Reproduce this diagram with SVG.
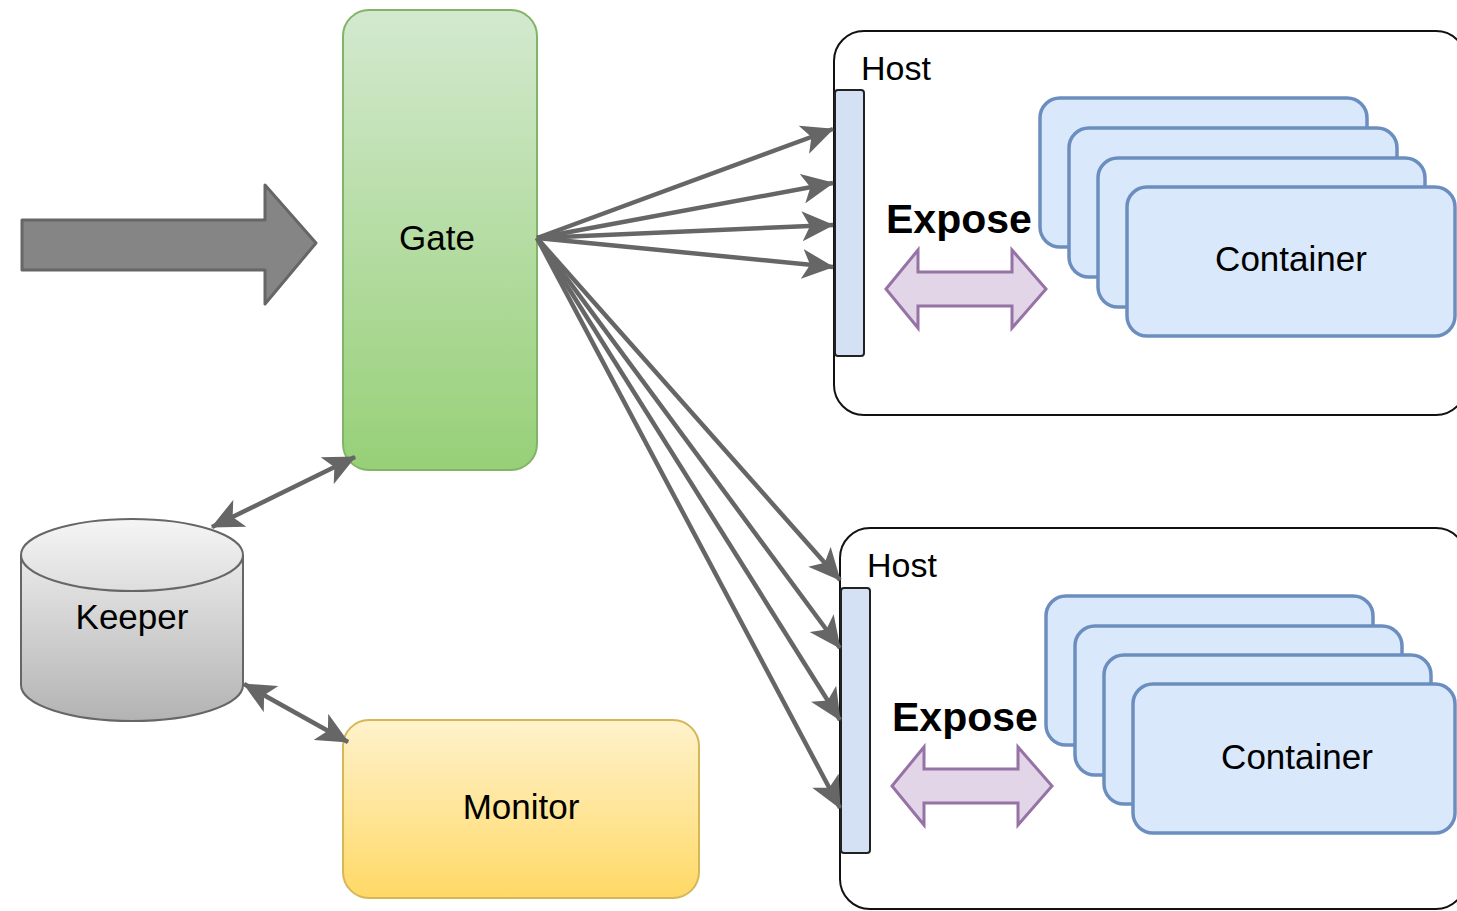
<svg xmlns="http://www.w3.org/2000/svg" width="1457" height="911" viewBox="0 0 1457 911">
<style>
  .lbl{font-family:"Liberation Sans",Arial,sans-serif;font-size:35px;fill:#000;text-anchor:middle}
  .host{font-family:"Liberation Sans",Arial,sans-serif;font-size:34px;fill:#000}
  .exp{font-family:"Liberation Sans",Arial,sans-serif;font-size:41px;font-weight:bold;fill:#000}
  .hostbox{fill:#fff;stroke:#111;stroke-width:2}
  .port{fill:#d4e1f5;stroke:#222;stroke-width:2}
  .cont{fill:#dae8fc;stroke:#6c8ebf;stroke-width:3.5}
  .xarrow{fill:#e1d5e7;stroke:#9673a6;stroke-width:3}
  .conn{stroke:#666;stroke-width:4.5;fill:none}
</style>
<defs>
  <linearGradient id="gGate" x1="0" y1="0" x2="0" y2="1">
    <stop offset="0" stop-color="#d3e9cf"/>
    <stop offset="1" stop-color="#97d077"/>
  </linearGradient>
  <linearGradient id="gMon" x1="0" y1="0" x2="0" y2="1">
    <stop offset="0" stop-color="#fff2cc"/>
    <stop offset="1" stop-color="#ffd966"/>
  </linearGradient>
  <linearGradient id="gKeep" x1="0" y1="0" x2="0" y2="1">
    <stop offset="0" stop-color="#f5f5f5"/>
    <stop offset="1" stop-color="#b3b3b3"/>
  </linearGradient>
  <marker id="ah" viewBox="0 0 32 30" refX="31" refY="15" markerWidth="32" markerHeight="30" markerUnits="userSpaceOnUse" orient="auto-start-reverse">
    <path d="M0,0 L32,15 L0,30 L8,15 Z" fill="#666"/>
  </marker>
</defs>

<g id="input-arrow">
  <polygon points="22,220 265,220 265,185 316,243 265,304 265,270 22,270" fill="#858585" stroke="#666" stroke-width="3" stroke-linejoin="round"/>
</g>

<g id="gate">
  <rect x="343" y="10" width="194" height="460" rx="26" fill="url(#gGate)" stroke="#82b366" stroke-width="2"/>
  <text class="lbl" x="437" y="250">Gate</text>
</g>

<g id="host1">
  <rect class="hostbox" x="834" y="31" width="632" height="384" rx="30"/>
  <text class="host" x="861" y="80">Host</text>
  <rect class="port" x="835" y="90" width="29" height="266" rx="3"/>
  <text class="exp" x="886" y="233">Expose</text>
  <polygon class="xarrow" points="886,289 918,250 918,272 1012,272 1012,250 1046,289 1012,328 1012,306 918,306 918,328"/>
  <rect class="cont" x="1040" y="98" width="327" height="149" rx="20"/>
  <rect class="cont" x="1069" y="128" width="328" height="149" rx="20"/>
  <rect class="cont" x="1098" y="158" width="327" height="149" rx="20"/>
  <rect class="cont" x="1127" y="187" width="328" height="149" rx="20"/>
  <text class="lbl" x="1291" y="271">Container</text>
</g>

<g id="host2">
  <rect class="hostbox" x="840" y="528" width="626" height="381" rx="30"/>
  <text class="host" x="867" y="577">Host</text>
  <rect class="port" x="841" y="588" width="29" height="265" rx="3"/>
  <text class="exp" x="892" y="731">Expose</text>
  <polygon class="xarrow" points="892,786 924,747 924,769 1018,769 1018,747 1052,786 1018,825 1018,803 924,803 924,825"/>
  <rect class="cont" x="1046" y="596" width="327" height="149" rx="20"/>
  <rect class="cont" x="1075" y="626" width="327" height="149" rx="20"/>
  <rect class="cont" x="1104" y="655" width="327" height="149" rx="20"/>
  <rect class="cont" x="1133" y="684" width="322" height="149" rx="20"/>
  <text class="lbl" x="1297" y="769">Container</text>
</g>

<g id="keeper">
  <path d="M21,555 A111,36 0 0 1 243,555 L243,685 A111,36 0 0 1 21,685 Z" fill="url(#gKeep)" stroke="#666" stroke-width="2"/>
  <path d="M21,555 A111,36 0 0 0 243,555" fill="none" stroke="#666" stroke-width="2"/>
  <text class="lbl" x="132" y="629">Keeper</text>
</g>

<g id="monitor">
  <rect x="343" y="720" width="356" height="178" rx="26" fill="url(#gMon)" stroke="#d6b656" stroke-width="2"/>
  <text class="lbl" x="521" y="819">Monitor</text>
</g>

<g id="connectors">
  <line class="conn" x1="537" y1="238" x2="833" y2="129" marker-end="url(#ah)"/>
  <line class="conn" x1="537" y1="238" x2="833" y2="183" marker-end="url(#ah)"/>
  <line class="conn" x1="537" y1="238" x2="833" y2="225" marker-end="url(#ah)"/>
  <line class="conn" x1="537" y1="238" x2="833" y2="267" marker-end="url(#ah)"/>
  <line class="conn" x1="537" y1="238" x2="840" y2="580" marker-end="url(#ah)"/>
  <line class="conn" x1="537" y1="238" x2="840" y2="648" marker-end="url(#ah)"/>
  <line class="conn" x1="537" y1="238" x2="840" y2="720" marker-end="url(#ah)"/>
  <line class="conn" x1="537" y1="238" x2="840" y2="808" marker-end="url(#ah)"/>
  <line class="conn" x1="212" y1="527" x2="355" y2="457" marker-start="url(#ah)" marker-end="url(#ah)"/>
  <line class="conn" x1="244" y1="684" x2="348" y2="742" marker-start="url(#ah)" marker-end="url(#ah)"/>
</g>
</svg>
